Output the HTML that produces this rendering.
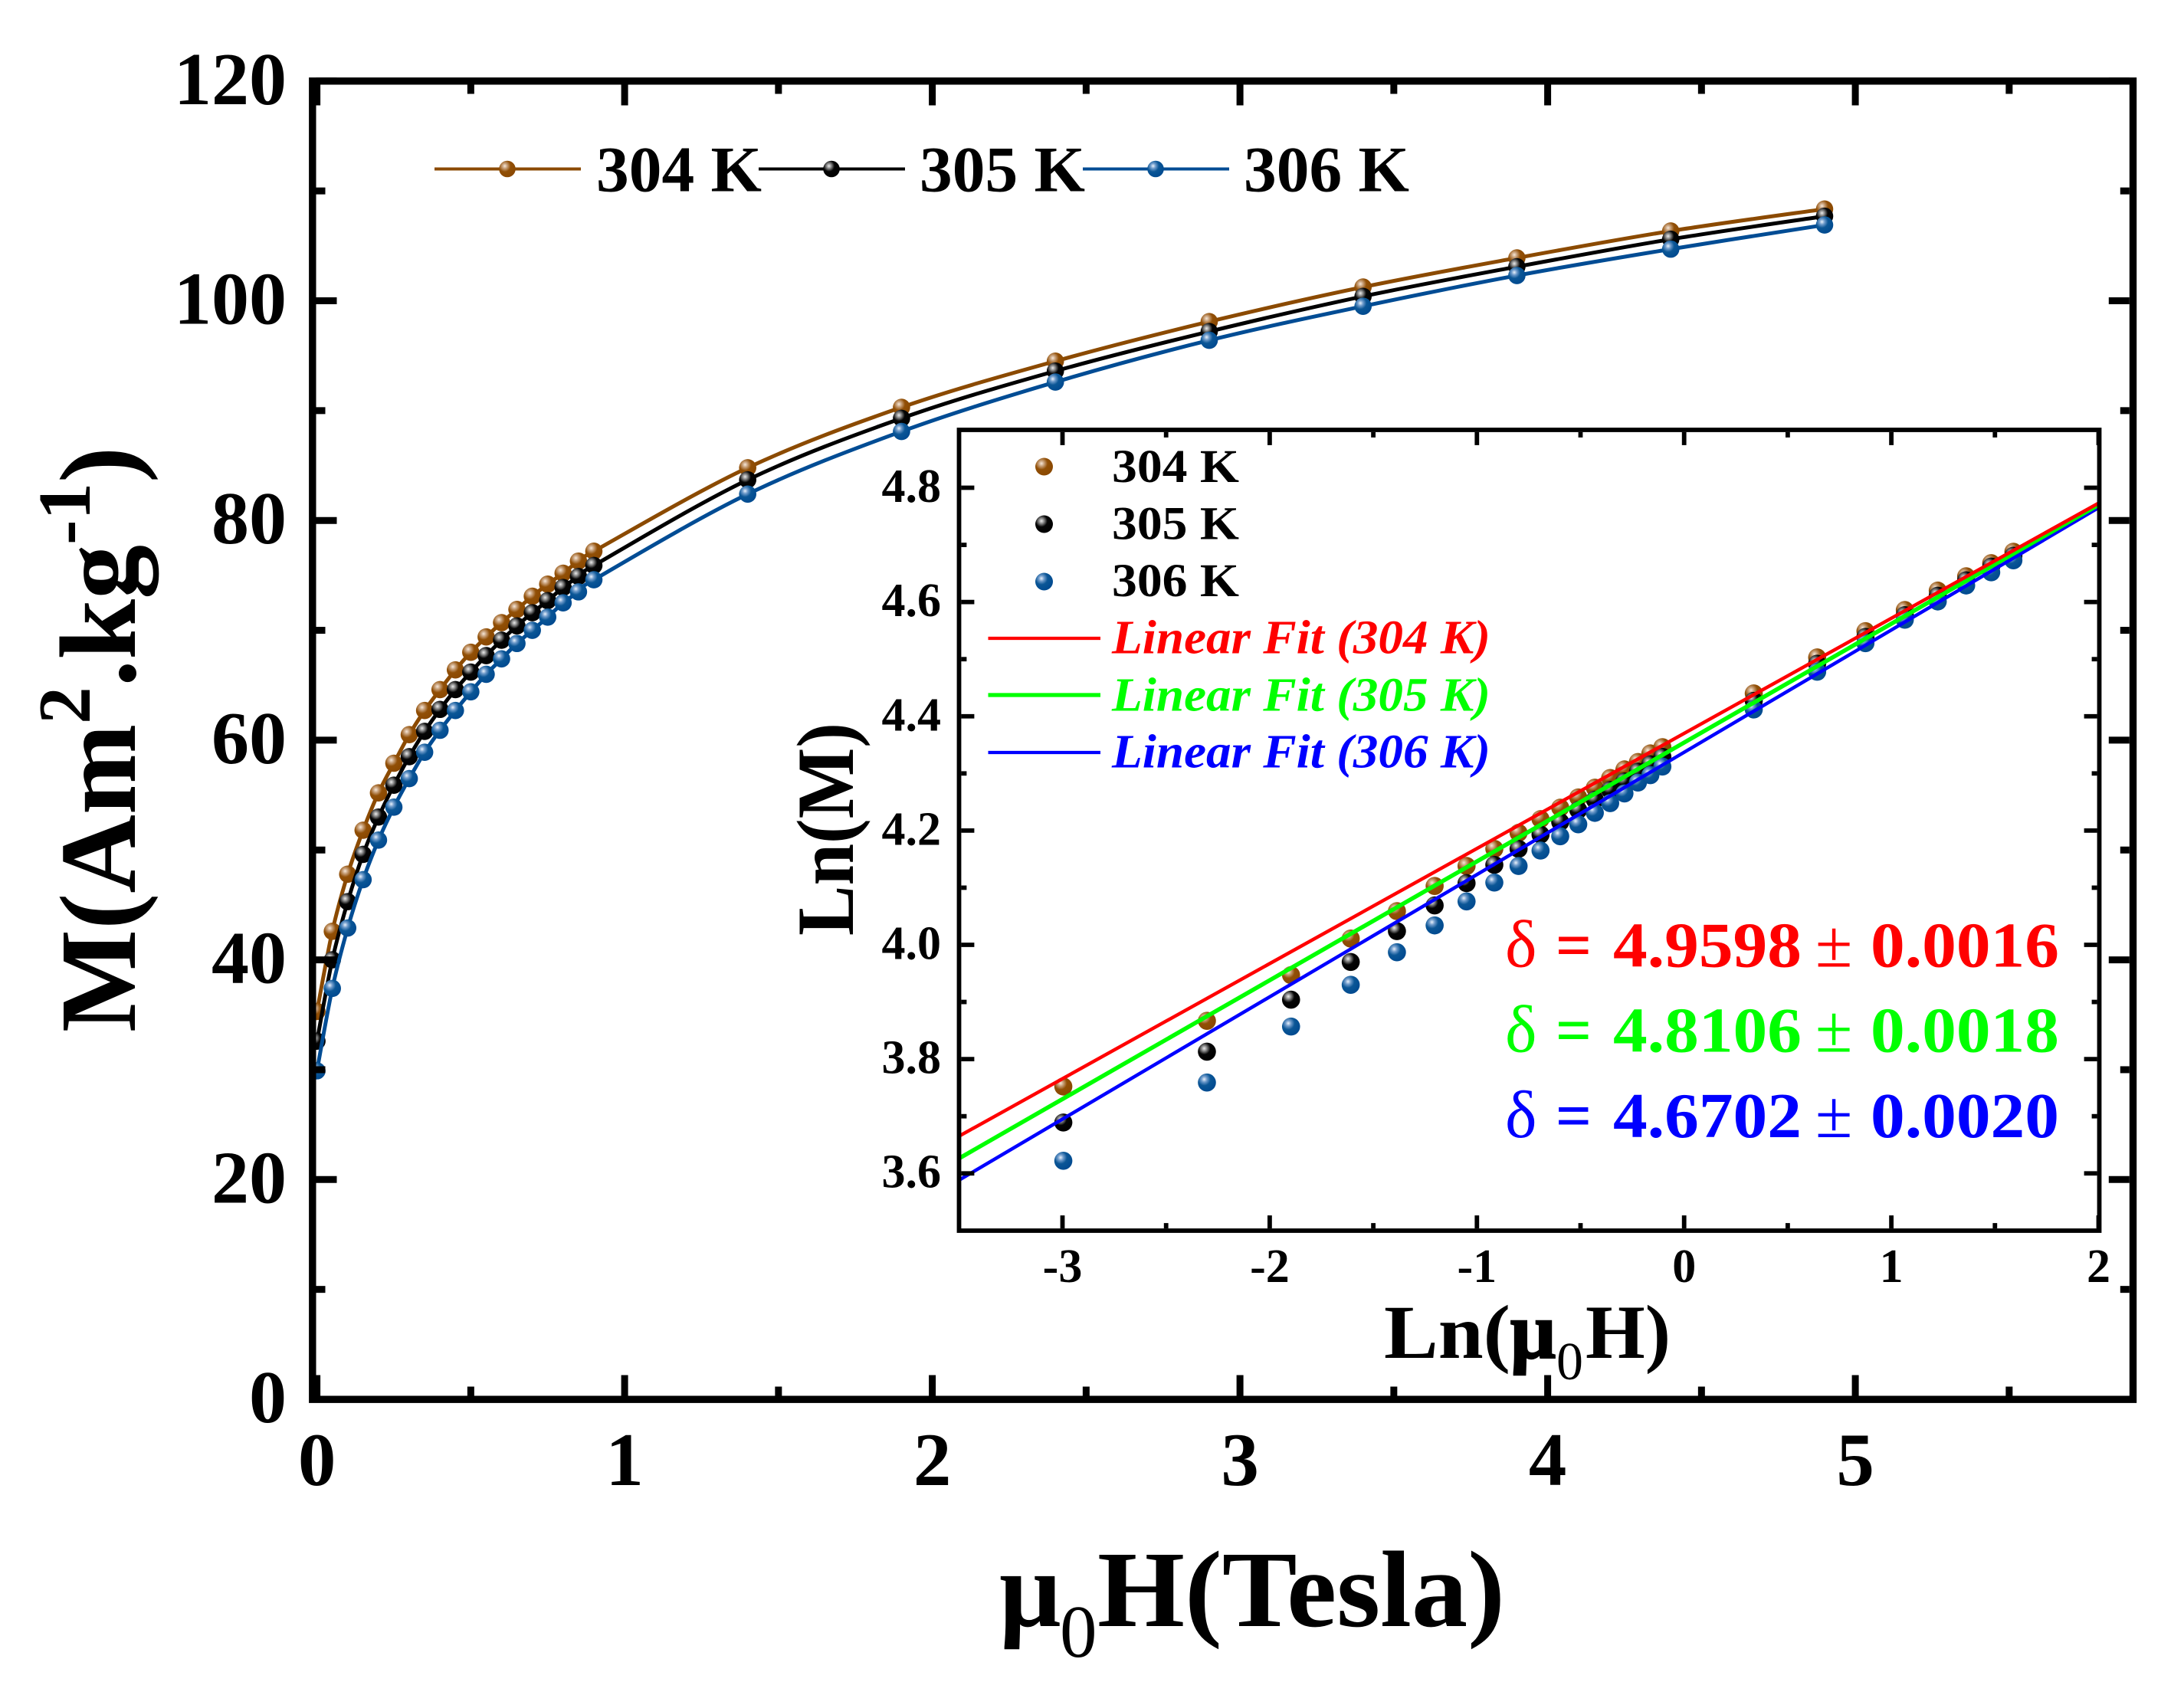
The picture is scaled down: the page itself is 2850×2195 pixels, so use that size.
<!DOCTYPE html>
<html lang="en">
<head>
<meta charset="utf-8">
<title>M vs field with Ln-Ln inset</title>
<style>
html,body{margin:0;padding:0;background:#fff;}
svg{display:block;}
text{font-family:"Liberation Serif","DejaVu Serif",serif;font-weight:bold;fill:#000;}
</style>
</head>
<body>
<svg id="chart" xmlns="http://www.w3.org/2000/svg" width="2850" height="2195" viewBox="0 0 2850 2195">
  <defs>
    <radialGradient id="ball-brown" cx="0.35" cy="0.32" r="0.7">
      <stop offset="0" stop-color="#f6e8da"/><stop offset="0.22" stop-color="#c79f78"/><stop offset="0.5" stop-color="#914f06"/><stop offset="1" stop-color="#8a4800"/>
    </radialGradient>
    <radialGradient id="ball-black" cx="0.35" cy="0.32" r="0.7">
      <stop offset="0" stop-color="#ececec"/><stop offset="0.22" stop-color="#858585"/><stop offset="0.48" stop-color="#050505"/><stop offset="1" stop-color="#000"/>
    </radialGradient>
    <radialGradient id="ball-blue" cx="0.35" cy="0.32" r="0.7">
      <stop offset="0" stop-color="#eaf2fb"/><stop offset="0.22" stop-color="#6f9bcb"/><stop offset="0.5" stop-color="#0b5696"/><stop offset="1" stop-color="#004a90"/>
    </radialGradient>
    <clipPath id="main-clip"><rect x="412" y="105" width="2372" height="1721"/></clipPath>
    <clipPath id="inset-clip"><rect x="1251" y="561" width="1489" height="1045"/></clipPath>
  </defs>
  <rect width="2850" height="2195" fill="#fff"/>
  <g id="main-series" clip-path="url(#main-clip)"></g>
  <g id="main-axes"></g>
  <g>
    <text x="778" y="249.5" font-size="85" textLength="216" lengthAdjust="spacingAndGlyphs">304 K</text>
    <text x="1200" y="249.5" font-size="85" textLength="216" lengthAdjust="spacingAndGlyphs">305 K</text>
    <text x="1623" y="249.5" font-size="85" textLength="216" lengthAdjust="spacingAndGlyphs">306 K</text>
  </g>
  <g id="main-legend-keys"></g>
  <text transform="translate(176,1347) rotate(-90)" font-size="142">M(Am<tspan font-size="97" dy="-59">2</tspan><tspan dy="59">.kg</tspan><tspan font-size="97" dy="-59">-1</tspan><tspan dy="59">)</tspan></text>
  <g>
    <text x="1304" y="2122" font-size="142">μ</text>
    <text x="1383" y="2162" font-size="97" style="font-weight:normal">0</text>
    <text x="1432" y="2122" font-size="142" textLength="532" lengthAdjust="spacingAndGlyphs">H(Tesla)</text>
  </g>

  <rect x="1251.5" y="561" width="1488" height="1045" fill="#fff"/>
  <g id="inset-series" clip-path="url(#inset-clip)"></g>
  <g id="inset-axes"></g>
  <g id="inset-legend-keys"></g>
  <g>
    <text x="1451" y="629" font-size="61" textLength="166" lengthAdjust="spacingAndGlyphs">304 K</text>
    <text x="1451" y="703.5" font-size="61" textLength="166" lengthAdjust="spacingAndGlyphs">305 K</text>
    <text x="1451" y="778" font-size="61" textLength="166" lengthAdjust="spacingAndGlyphs">306 K</text>
    <text x="1451" y="852.5" font-size="62" font-style="italic" style="fill:#ff0000" textLength="494" lengthAdjust="spacingAndGlyphs">Linear Fit (304 K)</text>
    <text x="1451" y="927.5" font-size="62" font-style="italic" style="fill:#00ff00" textLength="494" lengthAdjust="spacingAndGlyphs">Linear Fit (305 K)</text>
    <text x="1451" y="1001.5" font-size="62" font-style="italic" style="fill:#0000ff" textLength="494" lengthAdjust="spacingAndGlyphs">Linear Fit (306 K)</text>
  </g>
  <text transform="translate(1113,1221) rotate(-90) scale(1,1.08)" font-size="98" textLength="278" lengthAdjust="spacingAndGlyphs">Ln(M)</text>
  <g>
    <text x="1806" y="1772" font-size="100" textLength="165" lengthAdjust="spacingAndGlyphs">Ln(</text>
    <text x="1971" y="1772" font-size="104" stroke="#000" stroke-width="2.5">μ</text>
    <text x="2031" y="1800" font-size="70" style="font-weight:normal">0</text>
    <text x="2069" y="1772" font-size="100" textLength="111" lengthAdjust="spacingAndGlyphs">H)</text>
  </g>

  <g>
    <g>
      <text x="1964" y="1261.5" font-size="88" style="fill:#ff0000;font-weight:normal">δ</text>
      <text x="2030" y="1261.5" font-size="84" style="fill:#ff0000" textLength="47" lengthAdjust="spacingAndGlyphs">=</text>
      <text x="2105" y="1261.5" font-size="84" style="fill:#ff0000" textLength="246" lengthAdjust="spacingAndGlyphs">4.9598</text>
      <text x="2369" y="1261.5" font-size="88" style="fill:#ff0000;font-weight:normal">±</text>
      <text x="2441" y="1261.5" font-size="84" style="fill:#ff0000" textLength="246" lengthAdjust="spacingAndGlyphs">0.0016</text>
    </g>
    <g>
      <text x="1964" y="1372.5" font-size="88" style="fill:#00ff00;font-weight:normal">δ</text>
      <text x="2030" y="1372.5" font-size="84" style="fill:#00ff00" textLength="47" lengthAdjust="spacingAndGlyphs">=</text>
      <text x="2105" y="1372.5" font-size="84" style="fill:#00ff00" textLength="246" lengthAdjust="spacingAndGlyphs">4.8106</text>
      <text x="2369" y="1372.5" font-size="88" style="fill:#00ff00;font-weight:normal">±</text>
      <text x="2441" y="1372.5" font-size="84" style="fill:#00ff00" textLength="246" lengthAdjust="spacingAndGlyphs">0.0018</text>
    </g>
    <g>
      <text x="1964" y="1484" font-size="88" style="fill:#0000ff;font-weight:normal">δ</text>
      <text x="2030" y="1484" font-size="84" style="fill:#0000ff" textLength="47" lengthAdjust="spacingAndGlyphs">=</text>
      <text x="2105" y="1484" font-size="84" style="fill:#0000ff" textLength="246" lengthAdjust="spacingAndGlyphs">4.6702</text>
      <text x="2369" y="1484" font-size="88" style="fill:#0000ff;font-weight:normal">±</text>
      <text x="2441" y="1484" font-size="84" style="fill:#0000ff" textLength="246" lengthAdjust="spacingAndGlyphs">0.0020</text>
    </g>
  </g>
</svg>
<script>
// ---- main panel data ----
const fieldTesla = [0,0.05,0.1,0.15,0.2,0.25,0.3,0.35,0.4,0.45,0.5,0.55,0.6,0.65,0.7,0.75,0.8,0.85,0.9,1.4,1.9,2.4,2.9,3.4,3.9,4.4,4.9];
const moment304 = [35.3,42.6,47.8,51.8,55.2,57.9,60.5,62.7,64.6,66.4,68.0,69.4,70.7,71.9,73.1,74.2,75.2,76.3,77.2,84.8,90.3,94.5,98.1,101.25,103.9,106.35,108.35];
const moment305 = [32.6,40.0,45.3,49.6,53.0,55.9,58.5,60.8,62.8,64.6,66.2,67.7,69.1,70.4,71.6,72.7,73.9,74.9,75.9,83.7,89.3,93.6,97.2,100.4,103.1,105.6,107.7];
const moment306 = [29.9,37.4,42.9,47.3,50.9,53.9,56.5,58.9,60.9,62.7,64.4,66.0,67.4,68.8,70.0,71.2,72.5,73.5,74.6,82.4,88.1,92.6,96.4,99.5,102.3,104.7,106.9];
const mainXMajor = [0,1,2,3,4,5];
const mainXMinor = [0.5,1.5,2.5,3.5,4.5,5.5];
const mainYMajor = [0,20,40,60,80,100,120];
const mainYMinor = [10,30,50,70,90,110];
// ---- inset data ----
const lnField = [-2.996,-2.303,-1.897,-1.609,-1.386,-1.204,-1.050,-0.916,-0.799,-0.693,-0.598,-0.511,-0.431,-0.357,-0.288,-0.223,-0.163,-0.105,0.336,0.642,0.875,1.065,1.224,1.361,1.482,1.589];
const lnM304 = [3.752,3.867,3.947,4.011,4.059,4.103,4.138,4.168,4.196,4.220,4.240,4.258,4.275,4.292,4.307,4.320,4.335,4.346,4.440,4.503,4.549,4.586,4.620,4.645,4.668,4.688];
const lnM305 = [3.689,3.813,3.904,3.970,4.024,4.069,4.108,4.140,4.168,4.193,4.215,4.236,4.254,4.271,4.286,4.303,4.316,4.329,4.427,4.492,4.539,4.577,4.611,4.638,4.662,4.681];
const lnM306 = [3.622,3.759,3.857,3.930,3.987,4.034,4.076,4.109,4.138,4.165,4.190,4.211,4.231,4.248,4.265,4.284,4.297,4.312,4.412,4.478,4.528,4.569,4.601,4.629,4.652,4.673];
const fitLnField = [-3.5,2];
const fitLnM304 = [3.665,4.773];
const fitLnM305 = [3.626,4.770];
const fitLnM306 = [3.588,4.765];
const insetXMajor = [-3,-2,-1,0,1,2];
const insetXMinor = [-2.5,-1.5,-0.5,0.5,1.5];
const insetYMajor = [3.6,3.8,4.0,4.2,4.4,4.6,4.8];
const insetYMinor = [3.7,3.9,4.1,4.3,4.5,4.7];

const NS = 'http://www.w3.org/2000/svg';
const mx = v => 413.6 + 401.5 * v;
const my = v => 1826 - 14.335 * v;
const ix = v => 2197.7 + 270.4 * v;
const iy = v => 1233 - (v - 4) * 745.6;

function make(tag, parent, attrs) {
  const el = document.createElementNS(NS, tag);
  for (const k in attrs) el.setAttribute(k, attrs[k]);
  parent.appendChild(el);
  return el;
}
function smoothPath(px, py) {
  let d = 'M' + px[0] + ' ' + py[0];
  for (let i = 0; i < px.length - 1; i++) {
    const i0 = Math.max(0, i - 1), i3 = Math.min(px.length - 1, i + 2);
    const c1x = px[i] + (px[i + 1] - px[i0]) / 6, c1y = py[i] + (py[i + 1] - py[i0]) / 6;
    const c2x = px[i + 1] - (px[i3] - px[i]) / 6, c2y = py[i + 1] - (py[i3] - py[i]) / 6;
    d += 'C' + c1x + ' ' + c1y + ' ' + c2x + ' ' + c2y + ' ' + px[i + 1] + ' ' + py[i + 1];
  }
  return d;
}

// main series
const mainG = document.getElementById('main-series');
[['304', moment304, '#8b4a00', 'ball-brown'], ['305', moment305, '#000000', 'ball-black'], ['306', moment306, '#004c94', 'ball-blue']].forEach(s => {
  const line = make('path', mainG, {d: smoothPath(fieldTesla.map(mx), s[1].map(my)), fill: 'none', stroke: s[2], 'stroke-width': 5});
  
  
  fieldTesla.forEach((t, i) => {
    const dot = make('circle', mainG, {cx: mx(t), cy: my(s[1][i]), r: 11.3, fill: 'url(#' + s[3] + ')'});
    
    
  });
});

// frames and ticks
function axes(g, prefix, L, T, R, B, sw, majW, minW, majLen, minLen, xs, ys, xMaj, xMin, yMaj, yMin) {
  const frame = make('rect', g, {x: L, y: T, width: R - L, height: B - T, fill: 'none', stroke: '#000', 'stroke-width': sw});
  
  
  const tick = (x1, y1, x2, y2, w, name) => {
    const t = make('line', g, {x1, y1, x2, y2, stroke: '#000', 'stroke-width': w});
    
    
  };
  const o = sw / 2;
  xMaj.forEach(v => { tick(xs(v), B - o, xs(v), B - o - majLen, majW, prefix + '-x-major-tick'); tick(xs(v), T + o, xs(v), T + o + majLen, majW, prefix + '-x-major-tick-top'); });
  xMin.forEach(v => { tick(xs(v), B - o, xs(v), B - o - minLen, minW, prefix + '-x-minor-tick'); tick(xs(v), T + o, xs(v), T + o + minLen, minW, prefix + '-x-minor-tick-top'); });
  yMaj.forEach(v => { tick(L + o, ys(v), L + o + majLen, ys(v), majW, prefix + '-y-major-tick'); tick(R - o, ys(v), R - o - majLen, ys(v), majW, prefix + '-y-major-tick-right'); });
  yMin.forEach(v => { tick(L + o, ys(v), L + o + minLen, ys(v), minW, prefix + '-y-minor-tick'); tick(R - o, ys(v), R - o - minLen, ys(v), minW, prefix + '-y-minor-tick-right'); });
}
const mainAxes = document.getElementById('main-axes');
axes(mainAxes, 'main', 407.8, 105.8, 2783.5, 1826.2, 9.4, 9, 9, 27, 12, mx, my, mainXMajor, mainXMinor, mainYMajor, mainYMinor);

mainXMajor.forEach(v => {
  const t = make('text', mainAxes, {x: mx(v), y: 1938, 'font-size': 99, 'text-anchor': 'middle'});
  t.textContent = String(v);
  
  
});
mainYMajor.forEach(v => {
  const t = make('text', mainAxes, {x: 374, y: my(v) + 30, 'font-size': 98, 'text-anchor': 'end'});
  t.textContent = String(v);
  
  
});

// main legend keys
const mainKeys = document.getElementById('main-legend-keys');
[[567, '#8b4a00', 'ball-brown', '304'], [990, '#000000', 'ball-black', '305'], [1413, '#004c94', 'ball-blue', '306']].forEach(k => {
  const l = make('line', mainKeys, {x1: k[0], y1: 220.5, x2: k[0] + 191, y2: 220.5, stroke: k[1], 'stroke-width': 4});
  
  
  const c = make('circle', mainKeys, {cx: k[0] + 95, cy: 220.5, r: 10.8, fill: 'url(#' + k[2] + ')'});
  
  
});

// inset series
const insetG = document.getElementById('inset-series');
[['304', lnM304, 'ball-brown'], ['305', lnM305, 'ball-black'], ['306', lnM306, 'ball-blue']].forEach(s => {
  lnField.forEach((x, i) => {
    const dot = make('circle', insetG, {cx: ix(x), cy: iy(s[1][i]), r: 11.8, fill: 'url(#' + s[2] + ')'});
    
    
  });
});
[['306', fitLnM306, '#0000ff', 4.5], ['305', fitLnM305, '#00ff00', 5.5], ['304', fitLnM304, '#ff0000', 4.5]].forEach(f => {
  const l = make('line', insetG, {x1: ix(fitLnField[0]), y1: iy(f[1][0]), x2: ix(fitLnField[1]), y2: iy(f[1][1]), stroke: f[2], 'stroke-width': f[3]});
  
  
});

const insetAxes = document.getElementById('inset-axes');
axes(insetAxes, 'inset', 1251.5, 561, 2739.5, 1606, 5.8, 5.8, 5.8, 17, 7, ix, iy, insetXMajor, insetXMinor, insetYMajor, insetYMinor);
insetXMajor.forEach(v => {
  const t = make('text', insetAxes, {x: ix(v), y: 1673, 'font-size': 62, 'text-anchor': 'middle'});
  t.textContent = String(v);
  
  
});
insetYMajor.forEach(v => {
  const t = make('text', insetAxes, {x: 1228, y: iy(v) + 18.5, 'font-size': 62, 'text-anchor': 'end'});
  t.textContent = v.toFixed(1);
  
  
});

// inset legend keys
const insetKeys = document.getElementById('inset-legend-keys');
[[609, 'ball-brown', '304'], [684, 'ball-black', '305'], [759, 'ball-blue', '306']].forEach(k => {
  const c = make('circle', insetKeys, {cx: 1362.5, cy: k[0], r: 11.5, fill: 'url(#' + k[1] + ')'});
  
  
});
[[833, '#ff0000', '304', 4.3], [907, '#00ff00', '305', 5.3], [982, '#0000ff', '306', 4.3]].forEach(k => {
  const l = make('line', insetKeys, {x1: 1289.5, y1: k[0], x2: 1436, y2: k[0], stroke: k[1], 'stroke-width': k[3]});
  
  
});
</script>
</body>
</html>
